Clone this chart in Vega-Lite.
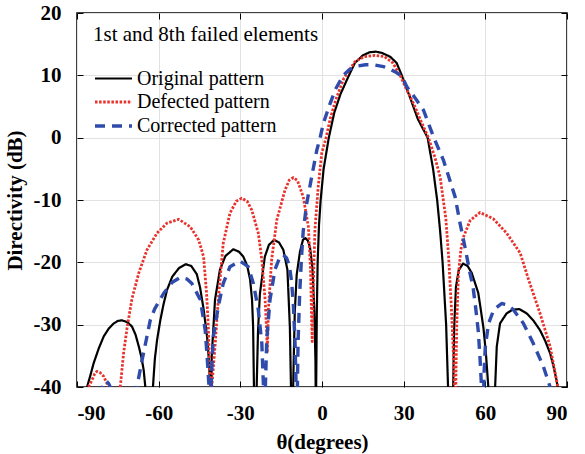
{
"$schema": "https://vega.github.io/schema/vega-lite/v6.json",
"width": 490, "height": 374,
"autosize": {"type": "none"},
"padding": {"left": 77, "top": 13, "right": 18, "bottom": 67},
"background": "white",
"config": {
  "view": {"stroke": "black", "strokeWidth": 1.5},
  "font": "Liberation Serif",
  "axis": {"labelFont": "Liberation Serif", "labelFontSize": 21, "labelFontWeight": "bold", "labelColor": "black",
           "titleFont": "Liberation Serif", "titleFontSize": 21, "titleFontWeight": "bold", "titleColor": "black",
           "domain": false, "tickColor": "black", "tickSize": -6, "tickWidth": 1, "gridColor": "#e2e2e2", "gridWidth": 1,
           "labelExpr": "toString(datum.value)"},
  "legend": {"orient": "none", "legendX": 16, "legendY": 11, "padding": 0,
             "titleFont": "Liberation Serif", "titleFontSize": 21, "titleFontWeight": "normal", "titleColor": "black", "titlePadding": 22, "titleLimit": 500,
             "labelFont": "Liberation Serif", "labelFontSize": 20, "labelColor": "black", "labelLimit": 400, "labelOffset": 20,
             "symbolType": "M-1,0H2.7", "symbolSize": 400, "rowPadding": 1.5}
},
"data": {"values": [
{"series":"Original pattern","x":-90,"y":-55},{"series":"Original pattern","x":-86.8,"y":-45},{"series":"Original pattern","x":-86.3,"y":-40},{"series":"Original pattern","x":-85,"y":-38},{"series":"Original pattern","x":-83.9,"y":-36.2},{"series":"Original pattern","x":-82,"y":-33.8},{"series":"Original pattern","x":-80.2,"y":-31.9},{"series":"Original pattern","x":-78.3,"y":-30.6},{"series":"Original pattern","x":-76.5,"y":-29.8},{"series":"Original pattern","x":-75,"y":-29.4},{"series":"Original pattern","x":-73.5,"y":-29.3},{"series":"Original pattern","x":-71.5,"y":-29.6},{"series":"Original pattern","x":-69.8,"y":-30.3},{"series":"Original pattern","x":-68.5,"y":-31.6},{"series":"Original pattern","x":-67.3,"y":-33.5},{"series":"Original pattern","x":-66.3,"y":-35.3},{"series":"Original pattern","x":-65.5,"y":-37.3},{"series":"Original pattern","x":-64.9,"y":-40},{"series":"Original pattern","x":-64.6,"y":-45},{"series":"Original pattern","x":-63.4,"y":-55},
{"series":"Original pattern","x":-62.3,"y":-45},{"series":"Original pattern","x":-62.1,"y":-40},{"series":"Original pattern","x":-61.4,"y":-35.5},{"series":"Original pattern","x":-60.6,"y":-32.5},{"series":"Original pattern","x":-59.4,"y":-29.3},{"series":"Original pattern","x":-58.2,"y":-26.7},{"series":"Original pattern","x":-56.9,"y":-24.4},{"series":"Original pattern","x":-55,"y":-22.3},{"series":"Original pattern","x":-52.5,"y":-20.9},{"series":"Original pattern","x":-50,"y":-20.3},{"series":"Original pattern","x":-48,"y":-20.6},{"series":"Original pattern","x":-46,"y":-21.9},{"series":"Original pattern","x":-44.8,"y":-24},{"series":"Original pattern","x":-43.5,"y":-27.5},{"series":"Original pattern","x":-42.2,"y":-32},{"series":"Original pattern","x":-41.5,"y":-36},{"series":"Original pattern","x":-41.1,"y":-40},{"series":"Original pattern","x":-40.9,"y":-50},
{"series":"Original pattern","x":-40.7,"y":-45},{"series":"Original pattern","x":-40.5,"y":-35},{"series":"Original pattern","x":-39.3,"y":-26},{"series":"Original pattern","x":-37.5,"y":-21.2},{"series":"Original pattern","x":-35.5,"y":-19},{"series":"Original pattern","x":-32.6,"y":-17.9},{"series":"Original pattern","x":-30.5,"y":-18.3},{"series":"Original pattern","x":-28.9,"y":-19.1},{"series":"Original pattern","x":-27.5,"y":-20.5},{"series":"Original pattern","x":-26.4,"y":-22.8},{"series":"Original pattern","x":-25.7,"y":-26},{"series":"Original pattern","x":-25.3,"y":-30.4},{"series":"Original pattern","x":-25,"y":-40},{"series":"Original pattern","x":-24.6,"y":-50},
{"series":"Original pattern","x":-24.2,"y":-45},{"series":"Original pattern","x":-24,"y":-40},{"series":"Original pattern","x":-23.5,"y":-31},{"series":"Original pattern","x":-22.8,"y":-25},{"series":"Original pattern","x":-21,"y":-19.1},{"series":"Original pattern","x":-19.5,"y":-17.2},{"series":"Original pattern","x":-17.6,"y":-16.4},{"series":"Original pattern","x":-15.8,"y":-16.8},{"series":"Original pattern","x":-14.2,"y":-18},{"series":"Original pattern","x":-12.7,"y":-21.2},{"series":"Original pattern","x":-11.8,"y":-30.4},{"series":"Original pattern","x":-11.4,"y":-40},{"series":"Original pattern","x":-11,"y":-50},
{"series":"Original pattern","x":-10.8,"y":-45},{"series":"Original pattern","x":-10.5,"y":-38},{"series":"Original pattern","x":-10,"y":-28},{"series":"Original pattern","x":-9.3,"y":-22},{"series":"Original pattern","x":-8.1,"y":-18.3},{"series":"Original pattern","x":-7,"y":-16.4},{"series":"Original pattern","x":-6.1,"y":-16.1},{"series":"Original pattern","x":-5.2,"y":-16.5},{"series":"Original pattern","x":-4.4,"y":-17.6},{"series":"Original pattern","x":-3.5,"y":-21},{"series":"Original pattern","x":-2.8,"y":-28},{"series":"Original pattern","x":-2.4,"y":-36},{"series":"Original pattern","x":-2.25,"y":-45},
{"series":"Original pattern","x":-2.1,"y":-38},{"series":"Original pattern","x":-1.9,"y":-28},{"series":"Original pattern","x":-1.6,"y":-20},{"series":"Original pattern","x":-1.1,"y":-14},{"series":"Original pattern","x":-0.5,"y":-10},{"series":"Original pattern","x":0.6,"y":-5},{"series":"Original pattern","x":2.5,"y":0},{"series":"Original pattern","x":4.5,"y":4},{"series":"Original pattern","x":6.8,"y":7},{"series":"Original pattern","x":9.9,"y":10},{"series":"Original pattern","x":12.1,"y":12},{"series":"Original pattern","x":15,"y":13.2},{"series":"Original pattern","x":17.5,"y":13.7},{"series":"Original pattern","x":19.8,"y":13.8},{"series":"Original pattern","x":22,"y":13.6},{"series":"Original pattern","x":25,"y":13},{"series":"Original pattern","x":27.4,"y":12},{"series":"Original pattern","x":29.3,"y":10},{"series":"Original pattern","x":32.3,"y":6.5},{"series":"Original pattern","x":35.2,"y":3},{"series":"Original pattern","x":38.8,"y":0},{"series":"Original pattern","x":40.8,"y":-5},{"series":"Original pattern","x":42.3,"y":-10},{"series":"Original pattern","x":43.4,"y":-15},{"series":"Original pattern","x":44.3,"y":-20},{"series":"Original pattern","x":45.6,"y":-30},{"series":"Original pattern","x":46.3,"y":-40},{"series":"Original pattern","x":46.6,"y":-50},
{"series":"Original pattern","x":47.9,"y":-50},{"series":"Original pattern","x":48.2,"y":-40},{"series":"Original pattern","x":48.5,"y":-31},{"series":"Original pattern","x":49.2,"y":-24},{"series":"Original pattern","x":50.2,"y":-21.3},{"series":"Original pattern","x":51.8,"y":-20.2},{"series":"Original pattern","x":53.5,"y":-20.6},{"series":"Original pattern","x":55,"y":-21.7},{"series":"Original pattern","x":57.4,"y":-24.9},{"series":"Original pattern","x":58.3,"y":-27.5},{"series":"Original pattern","x":59.3,"y":-30.5},{"series":"Original pattern","x":60.2,"y":-34.5},{"series":"Original pattern","x":61.1,"y":-40},{"series":"Original pattern","x":61.4,"y":-50},
{"series":"Original pattern","x":62.8,"y":-55},{"series":"Original pattern","x":63.3,"y":-45},{"series":"Original pattern","x":63.6,"y":-40},{"series":"Original pattern","x":64.2,"y":-33.5},{"series":"Original pattern","x":65.4,"y":-29.8},{"series":"Original pattern","x":67.8,"y":-28.2},{"series":"Original pattern","x":70,"y":-27.6},{"series":"Original pattern","x":72.5,"y":-27.5},{"series":"Original pattern","x":75.2,"y":-28.2},{"series":"Original pattern","x":77.6,"y":-29.3},{"series":"Original pattern","x":80.1,"y":-30.9},{"series":"Original pattern","x":82,"y":-32.6},{"series":"Original pattern","x":83.8,"y":-34.6},{"series":"Original pattern","x":85,"y":-36.6},{"series":"Original pattern","x":86.2,"y":-39},{"series":"Original pattern","x":87.2,"y":-42},{"series":"Original pattern","x":90,"y":-55},

{"series":"Defected pattern","x":-90,"y":-55},{"series":"Defected pattern","x":-86.5,"y":-45},{"series":"Defected pattern","x":-85.8,"y":-40},{"series":"Defected pattern","x":-84.5,"y":-38.9},{"series":"Defected pattern","x":-83.5,"y":-37.9},{"series":"Defected pattern","x":-82.7,"y":-37.5},{"series":"Defected pattern","x":-81.5,"y":-37.7},{"series":"Defected pattern","x":-80.2,"y":-38.3},{"series":"Defected pattern","x":-78.4,"y":-40},{"series":"Defected pattern","x":-77.8,"y":-45},{"series":"Defected pattern","x":-76,"y":-55},
{"series":"Defected pattern","x":-74.5,"y":-45},{"series":"Defected pattern","x":-74.1,"y":-40},{"series":"Defected pattern","x":-72.9,"y":-34.6},{"series":"Defected pattern","x":-71.6,"y":-30.5},{"series":"Defected pattern","x":-69.8,"y":-25.8},{"series":"Defected pattern","x":-67.3,"y":-21.7},{"series":"Defected pattern","x":-64.3,"y":-18},{"series":"Defected pattern","x":-60.6,"y":-15.3},{"series":"Defected pattern","x":-56.9,"y":-13.7},{"series":"Defected pattern","x":-52.6,"y":-13.1},{"series":"Defected pattern","x":-48.4,"y":-14.3},{"series":"Defected pattern","x":-45.3,"y":-16.4},{"series":"Defected pattern","x":-43.5,"y":-19.1},{"series":"Defected pattern","x":-42.4,"y":-25},{"series":"Defected pattern","x":-41.8,"y":-30},{"series":"Defected pattern","x":-41.3,"y":-36},{"series":"Defected pattern","x":-41,"y":-40},{"series":"Defected pattern","x":-40.8,"y":-50},
{"series":"Defected pattern","x":-40.7,"y":-45},{"series":"Defected pattern","x":-40.5,"y":-40},{"series":"Defected pattern","x":-39.3,"y":-33.5},{"series":"Defected pattern","x":-38.1,"y":-26},{"series":"Defected pattern","x":-36.3,"y":-17},{"series":"Defected pattern","x":-33.8,"y":-12.1},{"series":"Defected pattern","x":-31.5,"y":-10.2},{"series":"Defected pattern","x":-29.5,"y":-9.7},{"series":"Defected pattern","x":-27.5,"y":-10.2},{"series":"Defected pattern","x":-25.8,"y":-11.6},{"series":"Defected pattern","x":-23.4,"y":-15.3},{"series":"Defected pattern","x":-22.1,"y":-19.6},{"series":"Defected pattern","x":-20.9,"y":-26},{"series":"Defected pattern","x":-20.3,"y":-31.3},{"series":"Defected pattern","x":-20.1,"y":-34.5},
{"series":"Defected pattern","x":-19.7,"y":-27.6},{"series":"Defected pattern","x":-18.5,"y":-19.6},{"series":"Defected pattern","x":-16.6,"y":-13.2},{"series":"Defected pattern","x":-13.6,"y":-8.4},{"series":"Defected pattern","x":-12,"y":-6.8},{"series":"Defected pattern","x":-10.5,"y":-6.4},{"series":"Defected pattern","x":-9,"y":-6.9},{"series":"Defected pattern","x":-6.9,"y":-9.5},{"series":"Defected pattern","x":-5,"y":-14.3},{"series":"Defected pattern","x":-4.2,"y":-21.2},{"series":"Defected pattern","x":-3.8,"y":-29.3},{"series":"Defected pattern","x":-3.6,"y":-32.7},
{"series":"Defected pattern","x":-3.2,"y":-24},{"series":"Defected pattern","x":-2.6,"y":-14.8},{"series":"Defected pattern","x":-1.4,"y":-7.9},{"series":"Defected pattern","x":-0.1,"y":-2.5},{"series":"Defected pattern","x":1.5,"y":0},{"series":"Defected pattern","x":3,"y":3},{"series":"Defected pattern","x":5,"y":6},{"series":"Defected pattern","x":8,"y":9.5},{"series":"Defected pattern","x":12.1,"y":12.2},{"series":"Defected pattern","x":15.5,"y":13},{"series":"Defected pattern","x":19.5,"y":13.2},{"series":"Defected pattern","x":23,"y":13},{"series":"Defected pattern","x":26,"y":12},{"series":"Defected pattern","x":28.7,"y":10},{"series":"Defected pattern","x":31,"y":7.8},{"series":"Defected pattern","x":33.6,"y":5.5},{"series":"Defected pattern","x":36.5,"y":2.5},{"series":"Defected pattern","x":39.1,"y":0},{"series":"Defected pattern","x":41.5,"y":-3.2},{"series":"Defected pattern","x":43.4,"y":-6.3},{"series":"Defected pattern","x":45.5,"y":-13},{"series":"Defected pattern","x":46.5,"y":-19},{"series":"Defected pattern","x":47.5,"y":-27},{"series":"Defected pattern","x":48.3,"y":-35},{"series":"Defected pattern","x":48.7,"y":-40},{"series":"Defected pattern","x":49,"y":-48},
{"series":"Defected pattern","x":49.2,"y":-38},{"series":"Defected pattern","x":49.5,"y":-30},{"series":"Defected pattern","x":50.1,"y":-22},{"series":"Defected pattern","x":51,"y":-18},{"series":"Defected pattern","x":51.9,"y":-16},{"series":"Defected pattern","x":54.4,"y":-13.3},{"series":"Defected pattern","x":58,"y":-12},{"series":"Defected pattern","x":62.9,"y":-13},{"series":"Defected pattern","x":67.8,"y":-15.3},{"series":"Defected pattern","x":72.8,"y":-18.5},{"series":"Defected pattern","x":75.9,"y":-22.8},{"series":"Defected pattern","x":78,"y":-25.5},{"series":"Defected pattern","x":80.1,"y":-28.2},{"series":"Defected pattern","x":83.8,"y":-33.5},{"series":"Defected pattern","x":86.2,"y":-39},{"series":"Defected pattern","x":87.5,"y":-42},{"series":"Defected pattern","x":90,"y":-50},

{"series":"Corrected pattern","x":-90,"y":-60},{"series":"Corrected pattern","x":-83,"y":-50},{"series":"Corrected pattern","x":-81.5,"y":-42},{"series":"Corrected pattern","x":-80.5,"y":-39.8},{"series":"Corrected pattern","x":-79.3,"y":-39},{"series":"Corrected pattern","x":-78.3,"y":-39.5},{"series":"Corrected pattern","x":-77.3,"y":-40.5},{"series":"Corrected pattern","x":-76,"y":-44},{"series":"Corrected pattern","x":-72,"y":-55},
{"series":"Corrected pattern","x":-68.3,"y":-45},{"series":"Corrected pattern","x":-68,"y":-40},{"series":"Corrected pattern","x":-66.1,"y":-35.7},{"series":"Corrected pattern","x":-64.3,"y":-31.9},{"series":"Corrected pattern","x":-63.1,"y":-29.3},{"series":"Corrected pattern","x":-61.5,"y":-27.5},{"series":"Corrected pattern","x":-58.2,"y":-25},{"series":"Corrected pattern","x":-55,"y":-23.2},{"series":"Corrected pattern","x":-52,"y":-22.4},{"series":"Corrected pattern","x":-49.5,"y":-22.7},{"series":"Corrected pattern","x":-47.8,"y":-23.4},{"series":"Corrected pattern","x":-44.7,"y":-26},{"series":"Corrected pattern","x":-42.9,"y":-30.9},{"series":"Corrected pattern","x":-42.2,"y":-35.1},{"series":"Corrected pattern","x":-41.5,"y":-40},{"series":"Corrected pattern","x":-41.2,"y":-50},
{"series":"Corrected pattern","x":-40.9,"y":-45},{"series":"Corrected pattern","x":-40.6,"y":-38},{"series":"Corrected pattern","x":-39.9,"y":-31.9},{"series":"Corrected pattern","x":-38.1,"y":-27.1},{"series":"Corrected pattern","x":-36.3,"y":-23.4},{"series":"Corrected pattern","x":-33.8,"y":-20.7},{"series":"Corrected pattern","x":-30.1,"y":-19.8},{"series":"Corrected pattern","x":-27.1,"y":-20.7},{"series":"Corrected pattern","x":-25.2,"y":-23.4},{"series":"Corrected pattern","x":-23.4,"y":-27.6},{"series":"Corrected pattern","x":-22.1,"y":-33},{"series":"Corrected pattern","x":-21.5,"y":-40},{"series":"Corrected pattern","x":-21.2,"y":-50},
{"series":"Corrected pattern","x":-21,"y":-45},{"series":"Corrected pattern","x":-20.8,"y":-40},{"series":"Corrected pattern","x":-20.3,"y":-32.5},{"series":"Corrected pattern","x":-19.1,"y":-26},{"series":"Corrected pattern","x":-17.3,"y":-21.2},{"series":"Corrected pattern","x":-15.5,"y":-19.2},{"series":"Corrected pattern","x":-14.2,"y":-18.8},{"series":"Corrected pattern","x":-13,"y":-19.3},{"series":"Corrected pattern","x":-12,"y":-20.5},{"series":"Corrected pattern","x":-11.2,"y":-23},{"series":"Corrected pattern","x":-10.5,"y":-27},{"series":"Corrected pattern","x":-9.9,"y":-33},{"series":"Corrected pattern","x":-9.5,"y":-40},{"series":"Corrected pattern","x":-9.3,"y":-50},
{"series":"Corrected pattern","x":-9.2,"y":-45},{"series":"Corrected pattern","x":-8.8,"y":-33},{"series":"Corrected pattern","x":-8.2,"y":-25},{"series":"Corrected pattern","x":-7.5,"y":-19},{"series":"Corrected pattern","x":-6.9,"y":-15},{"series":"Corrected pattern","x":-5.6,"y":-10.5},{"series":"Corrected pattern","x":-3.8,"y":-6.3},{"series":"Corrected pattern","x":-1.9,"y":-2},{"series":"Corrected pattern","x":-0.7,"y":0},{"series":"Corrected pattern","x":0.5,"y":2.3},{"series":"Corrected pattern","x":3,"y":5.5},{"series":"Corrected pattern","x":5,"y":7.8},{"series":"Corrected pattern","x":7.8,"y":10},{"series":"Corrected pattern","x":10,"y":10.9},{"series":"Corrected pattern","x":13,"y":11.5},{"series":"Corrected pattern","x":16,"y":11.7},{"series":"Corrected pattern","x":19,"y":11.7},{"series":"Corrected pattern","x":22.6,"y":11.4},{"series":"Corrected pattern","x":25,"y":11},{"series":"Corrected pattern","x":27.5,"y":10.4},{"series":"Corrected pattern","x":29.4,"y":9.8},{"series":"Corrected pattern","x":31.1,"y":8.2},{"series":"Corrected pattern","x":34,"y":6.5},{"series":"Corrected pattern","x":37.3,"y":4.4},{"series":"Corrected pattern","x":40.9,"y":0.2},{"series":"Corrected pattern","x":44.6,"y":-3.6},{"series":"Corrected pattern","x":48.9,"y":-9.5},{"series":"Corrected pattern","x":50.7,"y":-13.7},{"series":"Corrected pattern","x":52.5,"y":-17.5},{"series":"Corrected pattern","x":54.4,"y":-21.8},{"series":"Corrected pattern","x":55.5,"y":-24},{"series":"Corrected pattern","x":56.5,"y":-27.5},{"series":"Corrected pattern","x":57.4,"y":-31},{"series":"Corrected pattern","x":58,"y":-35},{"series":"Corrected pattern","x":58.6,"y":-40},{"series":"Corrected pattern","x":58.9,"y":-50},
{"series":"Corrected pattern","x":59.2,"y":-45},{"series":"Corrected pattern","x":59.5,"y":-38},{"series":"Corrected pattern","x":60,"y":-33.5},{"series":"Corrected pattern","x":61.2,"y":-29.8},{"series":"Corrected pattern","x":63.1,"y":-27.6},{"series":"Corrected pattern","x":66,"y":-26.6},{"series":"Corrected pattern","x":68,"y":-26.8},{"series":"Corrected pattern","x":70.3,"y":-27.6},{"series":"Corrected pattern","x":74,"y":-29.8},{"series":"Corrected pattern","x":77.6,"y":-33},{"series":"Corrected pattern","x":81.3,"y":-36.7},{"series":"Corrected pattern","x":83.8,"y":-40},{"series":"Corrected pattern","x":85,"y":-42},{"series":"Corrected pattern","x":90,"y":-50}
]},
"layer": [
  {
    "mark": {"type": "line", "clip": true, "strokeCap": "butt", "strokeJoin": "round"},
    "encoding": {
      "x": {"field": "x", "type": "quantitative", "scale": {"domain": [-90, 90], "nice": false},
            "axis": {"orient": "bottom", "values": [-90, -60, -30, 0, 30, 60, 90], "title": "θ(degrees)", "labelPadding": 21, "titlePadding": 8, "grid": true}},
      "y": {"field": "y", "type": "quantitative", "scale": {"domain": [-40, 20], "nice": false},
            "axis": {"orient": "left", "values": [-40, -30, -20, -10, 0, 10, 20], "title": "Directivity (dB)", "labelPadding": 22, "titlePadding": 8, "grid": true}},
      "color": {"field": "series", "type": "nominal", "title": "1st and 8th failed elements",
                "scale": {"domain": ["Original pattern", "Defected pattern", "Corrected pattern"], "range": ["#000000", "#e8322c", "#2f4bab"]}},
      "strokeDash": {"field": "series", "type": "nominal", "title": "1st and 8th failed elements",
                "scale": {"domain": ["Original pattern", "Defected pattern", "Corrected pattern"], "range": [[1, 0], [2.5, 1.6], [10, 7]]}},
      "strokeWidth": {"field": "series", "type": "nominal", "title": "1st and 8th failed elements",
                "scale": {"domain": ["Original pattern", "Defected pattern", "Corrected pattern"], "range": [2.2, 3.4, 3.2]}}
    }
  },
  {
    "mark": {"type": "line", "opacity": 0, "clip": true},
    "encoding": {
      "x": {"field": "x", "type": "quantitative", "axis": {"orient": "top", "values": [-90, -60, -30, 0, 30, 60, 90], "labels": false, "title": null, "grid": false}},
      "y": {"field": "y", "type": "quantitative", "axis": {"orient": "right", "values": [-40, -30, -20, -10, 0, 10, 20], "labels": false, "title": null, "grid": false}},
      "detail": {"field": "series", "type": "nominal"}
    }
  }
],
"resolve": {"axis": {"x": "independent", "y": "independent"}}
}
